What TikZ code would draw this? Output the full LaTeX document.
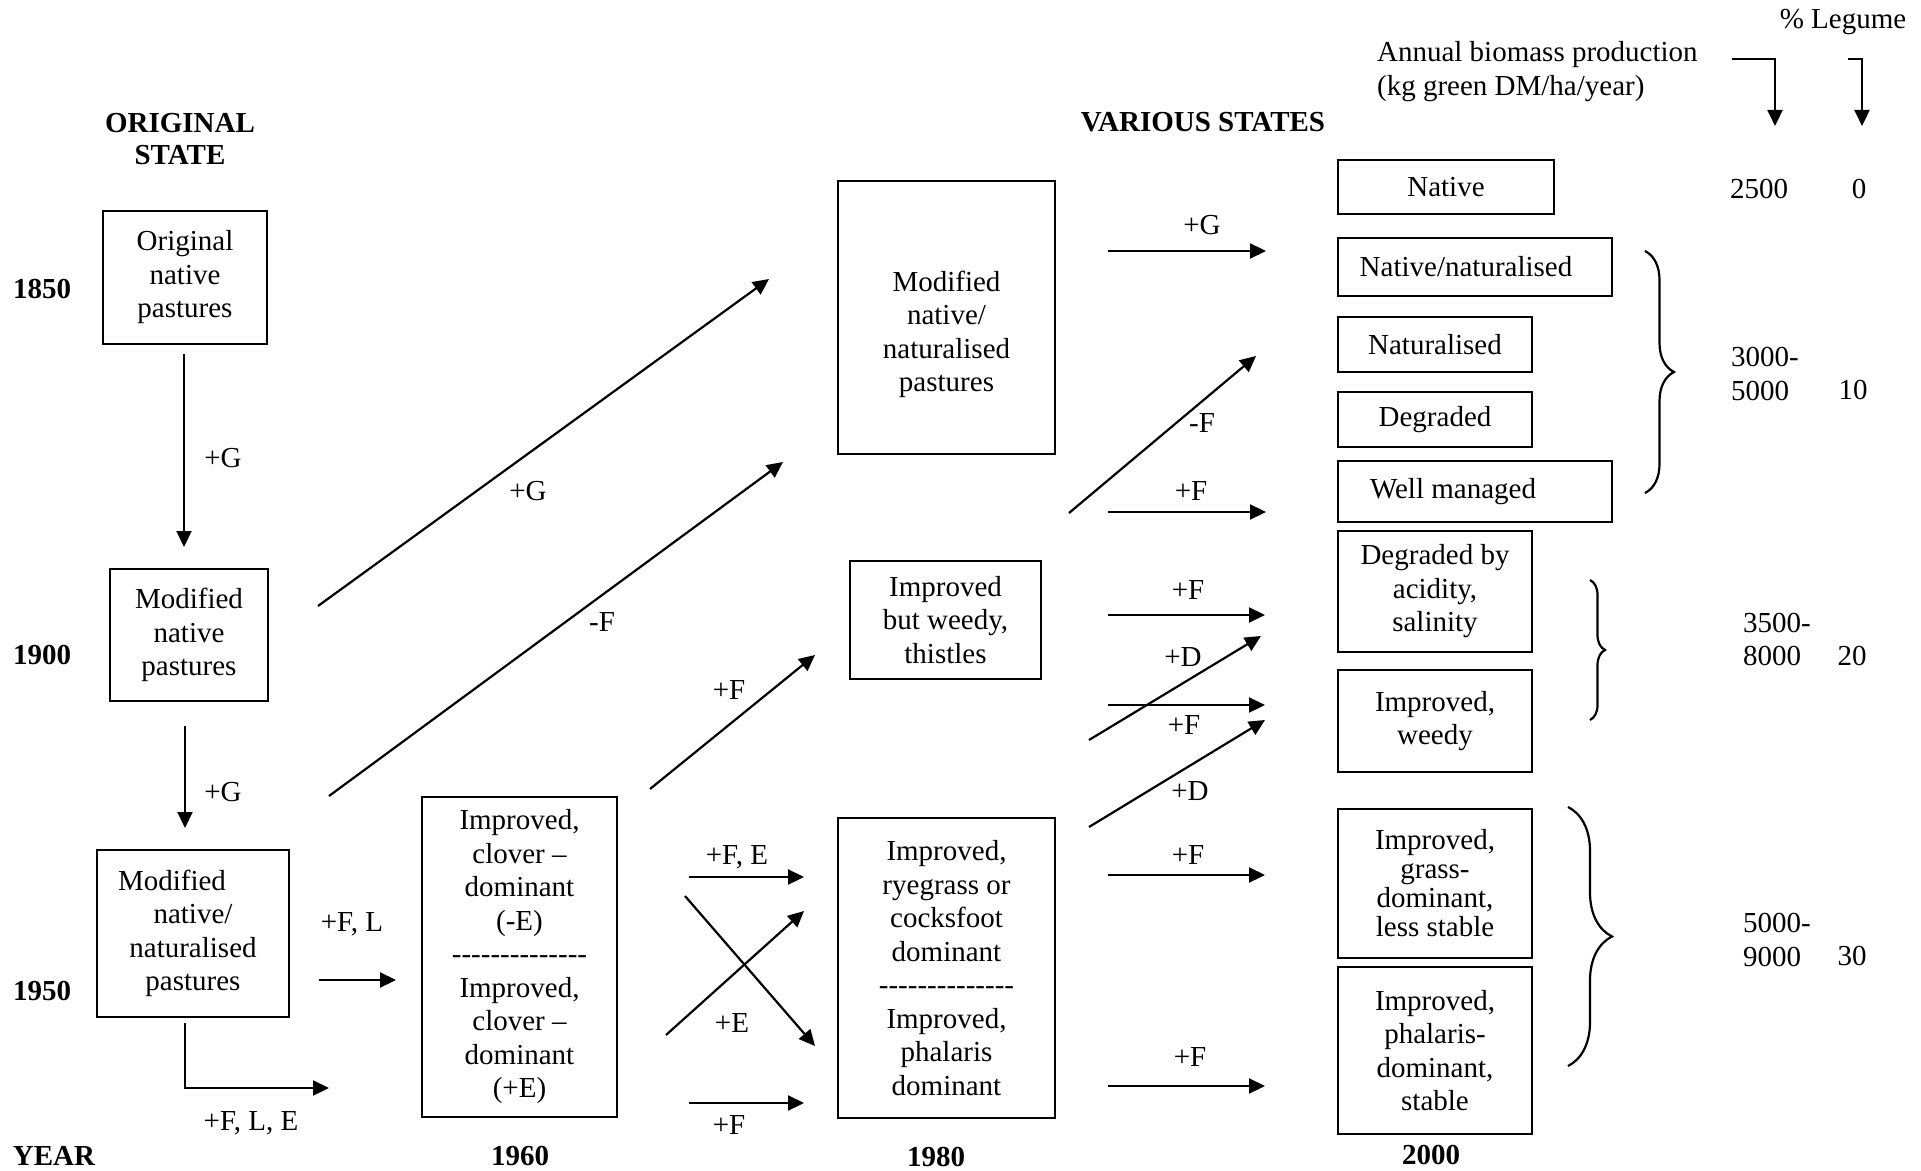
\documentclass[tikz,border=0pt]{standalone}
\usepackage{fontspec}
\setmainfont{Liberation Serif}
\usetikzlibrary{arrows.meta,decorations.pathreplacing}

\newcommand{\hyphenrow}{\mbox{-}\mbox{-}\mbox{-}\mbox{-}\mbox{-}\mbox{-}\mbox{-}\mbox{-}\mbox{-}\mbox{-}\mbox{-}\mbox{-}\mbox{-}\mbox{-}}

\begin{document}
\begin{tikzpicture}[x=0.5pt,y=-0.5pt,line width=1.1pt,>={Triangle[length=8pt,width=7.5pt]},
  every node/.style={font=\fontsize{14.5}{16.75}\selectfont,inner sep=0pt},
  box/.style 2 args={draw,align=center,minimum width=#1*0.5pt,minimum height=#2*0.5pt},
  head/.style={font=\fontsize{14.5}{16}\selectfont\bfseries,align=center},
  brc/.style={decorate,decoration={brace,amplitude=#1}}]
\useasboundingbox (0,0) rectangle (1921,1171);

% headings and years
\node[head] (hOrig) at (180,139) {ORIGINAL\\STATE};
\node[head] (hVar) at (1203,122) {VARIOUS STATES};
\node[head] (y1850) at (42,289) {1850};
\node[head] (y1900) at (42,655) {1900};
\node[head] (y1950) at (42,991) {1950};
\node[head] (yYear) at (54,1156) {YEAR};
\node[head] (y1960) at (520,1156) {1960};
\node[head] (y1980) at (936,1157) {1980};
\node[head] (y2000) at (1431,1155) {2000};

% states
\node[box={164}{133}] (orig) at (185,277.5) {Original\\native\\pastures};
\node[box={158}{132}] (modA) at (189,635) {Modified\\native\\pastures};
\node[box={192}{167}] (modB) at (193,933.5) {Modified\hspace*{21pt}\\native/\\naturalised\\pastures};
\node[box={195}{320}] (clover) at (519.5,957) {Improved,\\clover --\\dominant\\(-E)\\\hyphenrow\\Improved,\\clover --\\dominant\\(+E)};
\node[box={217}{273}] (modnat) at (946.5,317.5) {};
\node[align=center] (modnattxt) at (946.5,334.5) {Modified\\native/\\naturalised\\pastures};
\node[box={191}{118}] (weedy) at (945.5,620) {Improved\\but weedy,\\thistles};
\node[box={217}{300}] (rye) at (946.5,968) {Improved,\\ryegrass or\\cocksfoot\\dominant\\\hyphenrow\\Improved,\\phalaris\\dominant};

\node[box={216}{54}] (native) at (1446,187) {Native};
\node[box={274}{58}] (natnat) at (1475,267) {Native/naturalised\hspace*{9pt}};
\node[box={194}{55}] (natur) at (1435,344.5) {Naturalised};
\node[box={194}{55}] (degr) at (1435,419.5) {Degraded};
\node[box={274}{61}] (wellm) at (1475,491.5) {Well managed\hspace*{22pt}};
\node[box={194}{121}] (acid) at (1435,591.5) {Degraded by\\acidity,\\salinity};
\node[box={194}{102}] (impweedy) at (1435,721) {Improved,\\weedy};
\node[box={194}{149},font=\fontsize{14.5}{14.5}\selectfont] (grass) at (1435,883.5) {Improved,\\grass-\\dominant,\\less stable};
\node[box={194}{167}] (phal) at (1435,1050.5) {Improved,\\phalaris-\\dominant,\\stable};

% production and legume columns
\node[align=left,anchor=west] (annual) at (1376,71.5) {Annual biomass production\\(kg green DM/ha/year)};
\node (legume) at (1843,22) {\% Legume};
\node (p0) at (1759,189) {2500};
\node (l0) at (1859,189) {0};
\node[align=left,anchor=west] (p1) at (1730,374) {3000-\\5000};
\node (l1) at (1853,390) {10};
\node[align=left,anchor=west] (p2) at (1742,639.5) {3500-\\8000};
\node (l2) at (1852,656) {20};
\node[align=left,anchor=west] (p3) at (1742,940) {5000-\\9000};
\node (l3) at (1852,956) {30};

\coordinate (b1s) at (1732,59); \coordinate (b1e) at (1775,126);
\coordinate (b2s) at (1848,59); \coordinate (b2e) at (1862,126);
\draw[->] (b1s) -| (b1e);
\draw[->] (b2s) -| (b2e);

% braces
\coordinate (r1t) at (1645,251); \coordinate (r1b) at (1645,493);
\coordinate (r2t) at (1590,580); \coordinate (r2b) at (1590,720);
\coordinate (r3t) at (1568,807); \coordinate (r3b) at (1568,1066);
\draw[brc=14.5pt] (r1t) -- (r1b);
\draw[brc=7.5pt] (r2t) -- (r2b);
\draw[brc=22pt] (r3t) -- (r3b);

% transitions, 1850 to 1980
\coordinate (d1s) at (184,354); \coordinate (d1e) at (184,547);
\coordinate (d2s) at (185,726); \coordinate (d2e) at (185,828);
\coordinate (g1s) at (318,606); \coordinate (g1e) at (769,279);
\coordinate (f1s) at (329,796); \coordinate (f1e) at (783,462);
\coordinate (f2s) at (650,789); \coordinate (f2e) at (815,655);
\coordinate (fls) at (319,980); \coordinate (fle) at (396,980);
\coordinate (ls) at (185,1023); \coordinate (le) at (329,1088);
\coordinate (fes) at (689,877); \coordinate (fee) at (804,877);
\coordinate (x1s) at (685,896); \coordinate (x1e) at (815,1046);
\coordinate (x2s) at (666,1035); \coordinate (x2e) at (804,911);
\coordinate (f3s) at (689,1103); \coordinate (f3e) at (804,1103);
\foreach \a in {d1,d2,g1,f1,f2,fl,fe,x1,x2,f3}
  \draw[->] (\a s) -- (\a e);
\draw[->] (ls) |- (le);

\node (td1) at (223,458) {+G};
\node (td2) at (223,792) {+G};
\node (tg1) at (528,491) {+G};
\node (tf1) at (602,622) {-F};
\node (tf2) at (729,690) {+F};
\node (tfl) at (352,924) {+F, L};
\node (tl) at (251,1123) {+F, L, E};
\node (tfe) at (737,857) {+F, E};
\node (tx) at (732,1023) {+E};
\node (tf3) at (729,1125) {+F};

% transitions, 1980 to 2000
\coordinate (h1s) at (1108,251); \coordinate (h1e) at (1266,251);
\coordinate (h2s) at (1069,513); \coordinate (h2e) at (1256,356);
\coordinate (h3s) at (1108,512); \coordinate (h3e) at (1266,512);
\coordinate (h4s) at (1108,615); \coordinate (h4e) at (1265,615);
\coordinate (h5s) at (1089,740); \coordinate (h5e) at (1261,636);
\coordinate (h6s) at (1108,705); \coordinate (h6e) at (1265,705);
\coordinate (h7s) at (1089,827); \coordinate (h7e) at (1265,720);
\coordinate (h8s) at (1108,875); \coordinate (h8e) at (1265,875);
\coordinate (h9s) at (1108,1086); \coordinate (h9e) at (1265,1086);
\foreach \a in {h1,h2,h3,h4,h5,h6,h7,h8,h9}
  \draw[->] (\a s) -- (\a e);

\node (th1) at (1202,225) {+G};
\node (th2) at (1202,423) {-F};
\node (th3) at (1191,491) {+F};
\node (th4) at (1188,590) {+F};
\node (th5) at (1183,657) {+D};
\node (th6) at (1184,725) {+F};
\node (th7) at (1190,791) {+D};
\node (th8) at (1188,855) {+F};
\node (th9) at (1190,1057) {+F};
\end{tikzpicture}
\end{document}
